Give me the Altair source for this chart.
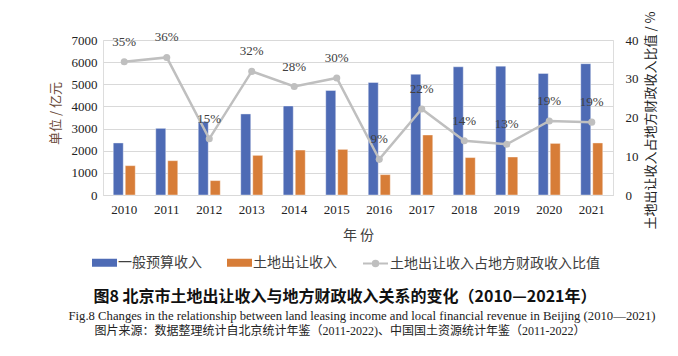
import altair as alt
import pandas as pd

years = ["2010", "2011", "2012", "2013", "2014", "2015", "2016", "2017", "2018", "2019", "2020", "2021"]
budget = [2350, 3010, 3310, 3660, 4020, 4720, 5080, 5450, 5790, 5820, 5490, 5930]
land = [1325, 1550, 650, 1790, 2030, 2060, 920, 2710, 1690, 1715, 2330, 2350]
ratio = [34.4, 35.5, 14.5, 31.9, 28.0, 30.2, 9.2, 22.2, 14.0, 13.1, 19.1, 18.8]
ratio_labels = ["35%", "36%", "15%", "32%", "28%", "30%", "9%", "22%", "14%", "13%", "19%", "19%"]

s_budget = "一般预算收入"
s_land = "土地出让收入"
s_ratio = "土地出让收入占地方财政收入比值"

caption1 = "图8  北京市土地出让收入与地方财政收入关系的变化（2010—2021年）"
caption2 = "Fig.8   Changes in the relationship between land leasing income and local financial revenue in Beijing (2010—2021)"
caption3 = "图片来源：数据整理统计自北京统计年鉴（2011-2022)、中国国土资源统计年鉴（2011-2022）"

bars_df = pd.DataFrame({
    "year": years * 2,
    "series": [s_budget] * len(years) + [s_land] * len(years),
    "value": budget + land,
})
line_df = pd.DataFrame({"year": years, "ratio": ratio, "label": ratio_labels, "series": [s_ratio] * len(years)})

SERIF = "Liberation Serif"
CJK = "Noto Sans CJK SC"
TXT = "#404040"

x_enc = alt.X("year:N", sort=years,
              scale=alt.Scale(paddingInner=0.435, paddingOuter=0.2176),
              axis=alt.Axis(title="年 份", titleFont=CJK, titleFontSize=14, titleFontWeight="normal",
                            titleColor=TXT, titlePadding=12,
                            labelFont=SERIF, labelFontSize=13, labelColor="#222", labelAngle=0,
                            labelPadding=8, ticks=False, domainColor="#D9D9D9", grid=False))

bars = alt.Chart(bars_df).mark_bar(width=10, stroke="white", strokeWidth=0.4).encode(
    x=x_enc,
    xOffset=alt.XOffset("series:N", sort=[s_budget, s_land], scale=alt.Scale(paddingInner=0, paddingOuter=0)),
    y=alt.Y("value:Q", scale=alt.Scale(domain=[0, 7000], nice=False),
            axis=alt.Axis(orient="left", values=list(range(0, 7001, 1000)), format="d", title="单位 / 亿元",
                          titleFont=CJK, titleFontSize=13, titleFontWeight="normal", titleColor="#6a4a3a",
                          titleX=-48, titleY=73, titleAngle=270, titleAlign="center", titleBaseline="middle",
                          labelFont=SERIF, labelFontSize=13, labelColor="#222", labelOverlap=False,
                          labelPadding=6, ticks=False, domain=False, grid=True,
                          gridColor="#D9D9D9", gridWidth=1)),
    color=alt.Color("series:N", sort=[s_budget, s_land],
                    scale=alt.Scale(domain=[s_budget, s_land], range=["#4E6BB5", "#D77D38"]),
                    legend=alt.Legend(title=None, orient="none", legendX=-11, legendY=210,
                                      direction="horizontal", columns=2, columnPadding=25,
                                      symbolType="M-1,-0.32H1V0.32H-1Z", symbolSize=625,
                                      symbolStrokeWidth=0, labelOffset=1, labelLimit=400,
                                      labelFont=CJK, labelFontSize=14, labelColor=TXT)),
)

y_r = alt.Y("ratio:Q", scale=alt.Scale(domain=[0, 40], nice=False),
            axis=alt.Axis(orient="right", values=[0, 10, 20, 30, 40], tickCount=5, title=s_ratio + " / %",
                          titleFont=CJK, titleFontSize=13, titleFontWeight="normal", titleColor="#222",
                          titleAngle=270, titleX=37, titleY=80, titleAlign="center", titleBaseline="middle",
                          labelFont=SERIF, labelFontSize=13, labelOverlap=False,
                          labelColor="#222", labelPadding=12, ticks=False, domain=False, grid=False))
x_plain = alt.X("year:N", sort=years)

line = alt.Chart(line_df).mark_line(strokeWidth=2.5).encode(
    x=x_plain,
    y=y_r,
    stroke=alt.Stroke("series:N", scale=alt.Scale(domain=[s_ratio], range=["#BFBFBF"]),
                      legend=alt.Legend(title=None, orient="none", legendX=259, legendY=210,
                                        symbolType="M-1,0H-0.3M0.3,0H1M0.22,0A0.22,0.22,0,1,1,-0.22,0A0.22,0.22,0,1,1,0.22,0Z",
                                        symbolSize=625, symbolStrokeWidth=2, symbolFillColor="#BFBFBF",
                                        labelOffset=1, labelLimit=400, labelFont=CJK, labelFontSize=14,
                                        labelColor=TXT)),
)
pts = alt.Chart(line_df).mark_point(filled=True, size=50, color="#BFBFBF", opacity=1).encode(
    x=x_plain, y=y_r)
lbls = alt.Chart(line_df).mark_text(dy=-20, font=SERIF, fontSize=13, color=TXT).encode(
    x=x_plain, y=y_r, text="label:N")

right = alt.layer(line, pts, lbls)

cap1 = alt.Chart(pd.DataFrame({"t": [caption1]})).mark_text(
    font=CJK, fontSize=16, fontWeight="bold", color="#111", align="center", baseline="middle").encode(
    x=alt.value(242), y=alt.value(257), text="t:N")
cap2 = alt.Chart(pd.DataFrame({"t": [caption2]})).mark_text(
    font=SERIF, fontSize=12.7, color="#222", align="center", baseline="middle").encode(
    x=alt.value(259), y=alt.value(276), text="t:N")
cap3 = alt.Chart(pd.DataFrame({"t": [caption3]})).mark_text(
    font=SERIF + ", " + CJK, fontSize=12, color="#222", align="center", baseline="middle").encode(
    x=alt.value(237), y=alt.value(291), text="t:N")

chart = alt.layer(bars, right, cap1, cap2, cap3).resolve_scale(
    y="independent", color="independent", stroke="independent"
).properties(
    width=510, height=155,
    padding={"left": 103, "top": 40, "right": 65, "bottom": 161},
    autosize=alt.AutoSizeParams(type="none"),
).configure_view(stroke=None).configure(background="white")

chart.save("out.html", embed_options={"renderer": "svg", "actions": False})
